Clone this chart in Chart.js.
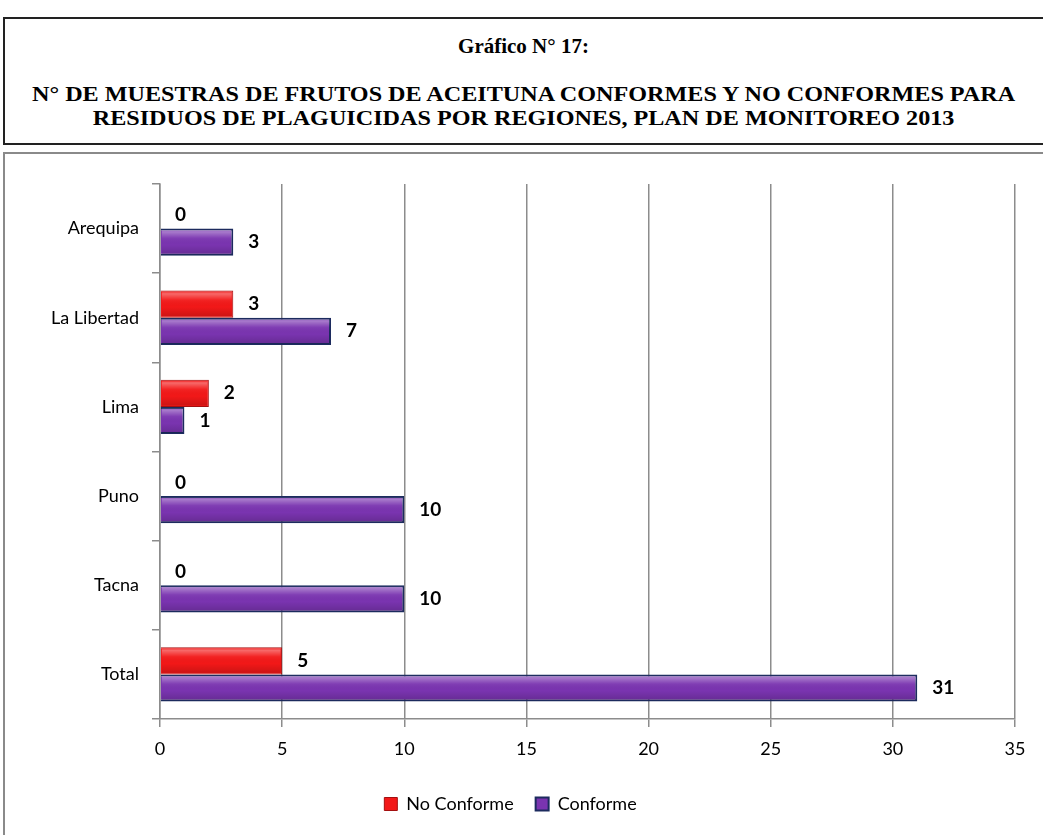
<!DOCTYPE html>
<html lang="es">
  <head>
    <meta charset="UTF-8" />
    <title>Gráfico N° 17</title>
    <style>
      * {
        box-sizing: border-box;
        margin: 0;
        padding: 0;
      }
      body {
        width: 1043px;
        height: 835px;
        background: #fff;
        position: relative;
        overflow: hidden;
      }
      .title-box {
        position: absolute;
        left: 3px;
        top: 17px;
        width: 1045px;
        height: 128px;
        border: 2px solid #222;
        font-family: "Liberation Serif", "Times New Roman", serif;
        font-weight: bold;
        font-size: 21px;
        text-align: center;
        color: #000;
      }
      .title-box .t1 {
        position: absolute;
        top: 15px;
        width: 1037px;
      }
      .title-box .t2 {
        position: absolute;
        top: 63px;
        left: 0;
        width: 1037px;
        line-height: 24px;
        transform: scaleX(1.15);
        transform-origin: 518px 0;
      }
      .chart-box {
        position: absolute;
        left: 3px;
        top: 152px;
        width: 1045px;
        height: 690px;
        border: 2px solid #8a8a8a;
      }
      canvas {
        position: absolute;
        left: 1px;
        top: 0;
      }
    </style>
  </head>
  <body>
    <div class="title-box">
      <div class="t1">Gráfico N° 17:</div>
      <div class="t2">
        N° DE MUESTRAS DE FRUTOS DE ACEITUNA CONFORMES Y NO CONFORMES PARA<br />
        RESIDUOS DE PLAGUICIDAS POR REGIONES, PLAN DE MONITOREO 2013
      </div>
    </div>
    <div class="chart-box">
      <canvas id="chart" width="1039" height="682"></canvas>
    </div>

    <script src="https://cdn.jsdelivr.net/npm/chart.js"></script>
    <script>
      const regiones = ["Arequipa", "La Libertad", "Lima", "Puno", "Tacna", "Total"];
      const noConforme = [0, 3, 2, 0, 0, 5];
      const conforme = [3, 7, 1, 10, 10, 31];
      const xTicks = [0, 5, 10, 15, 20, 25, 30, 35];

      const font = "Lato, 'Open Sans', sans-serif";

      // bevel shading on the bars + numbers next to each bar end
      const valueLabels = {
        id: "valueLabels",
        afterDatasetsDraw(chart) {
          const ctx = chart.ctx;
          ctx.save();
          chart.data.datasets.forEach((ds, i) => {
            const meta = chart.getDatasetMeta(i);
            meta.data.forEach((bar, j) => {
              const h = bar.height;
              const left = Math.min(bar.base, bar.x);
              const w = Math.abs(bar.x - bar.base);
              if (w > 3) {
                const top = bar.y - h / 2;
                const g = ctx.createLinearGradient(0, top, 0, top + h);
                g.addColorStop(0, "rgba(255,255,255,0.05)");
                g.addColorStop(0.12, "rgba(255,255,255,0.35)");
                g.addColorStop(0.35, "rgba(255,255,255,0.05)");
                g.addColorStop(0.6, "rgba(0,0,0,0)");
                g.addColorStop(1, "rgba(0,0,0,0.18)");
                ctx.fillStyle = g;
                ctx.fillRect(left + 1, top + 1.5, w - 2.5, h - 3);
              }
              ctx.fillStyle = "#000";
              ctx.font = "bold 19px " + font;
              ctx.textAlign = "left";
              ctx.textBaseline = "middle";
              ctx.fillText(ds.data[j], bar.x + 15, bar.y);
            });
          });
          ctx.restore();
        },
      };

      new Chart(document.getElementById("chart"), {
        type: "bar",
        data: {
          labels: regiones,
          datasets: [
            {
              label: "No Conforme",
              data: noConforme,
              backgroundColor: "#f21818",
              borderColor: "#a31010",
              borderWidth: 1,
            },
            {
              label: "Conforme",
              data: conforme,
              backgroundColor: "#7a34b0",
              borderColor: "#1c2b5e",
              borderWidth: 2,
            },
          ],
        },
        options: {
          indexAxis: "y",
          responsive: false,
          animation: false,
          categoryPercentage: 0.61,
          barPercentage: 1,
          layout: { padding: { top: 30, right: 30, left: 0, bottom: 13 } },
          scales: {
            x: {
              min: 0,
              max: 35,
              afterBuildTicks: (s) => {
                s.ticks = xTicks.map((v) => ({ value: v }));
              },
              afterFit: (s) => {
                s.height = 54;
              },
              grid: {
                color: "#8c8c8c",
                lineWidth: 1.5,
                tickLength: 8,
              },
              border: { color: "#8c8c8c", width: 1.5 },
              ticks: {
                color: "#000",
                font: { family: font, size: 18 },
                padding: 11,
              },
            },
            y: {
              afterFit: (s) => {
                s.width = 154;
              },
              grid: {
                drawOnChartArea: false,
                color: "#8c8c8c",
                lineWidth: 1.5,
                tickLength: 8,
              },
              border: { color: "#8c8c8c", width: 1.5 },
              ticks: {
                color: "#000",
                font: { family: font, size: 18 },
                padding: 13,
              },
            },
          },
          plugins: {
            title: { display: false },
            tooltip: { enabled: false },
            legend: {
              position: "bottom",
              labels: {
                color: "#000",
                font: { family: font, size: 18 },
                boxWidth: 13,
                boxHeight: 13,
                padding: 22,
              },
            },
          },
        },
        plugins: [valueLabels],
      });
    </script>
  </body>
</html>
